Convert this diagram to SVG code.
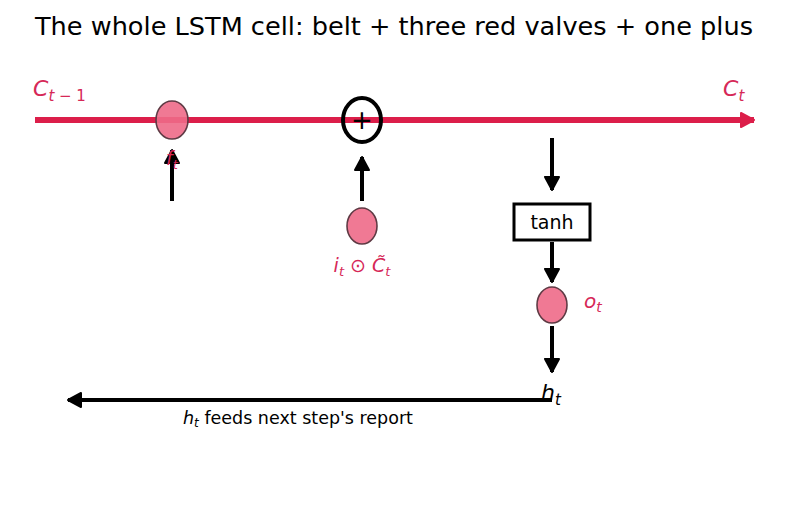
<svg xmlns="http://www.w3.org/2000/svg" width="787" height="512" viewBox="0 0 787 512">
<style>
text{font-family:"DejaVu Sans","Liberation Sans",sans-serif}
.red{fill:#d62857}
.it{font-style:italic}
.valve{fill:#ee6a88;fill-opacity:0.9;stroke:#5e3a44;stroke-width:1.6}
.arr{stroke:#000;stroke-width:4;fill:none}
</style>
<defs>
<marker id="ah" markerUnits="userSpaceOnUse" markerWidth="24" markerHeight="24" refX="14" refY="8" orient="auto">
<path d="M1,1 L14,8 L1,15 Z" fill="#000" stroke="#000" stroke-width="2" stroke-linejoin="round"/>
</marker>
<marker id="ahr" markerUnits="userSpaceOnUse" markerWidth="24" markerHeight="24" refX="14" refY="8" orient="auto">
<path d="M1,1 L14,8 L1,15 Z" fill="#dc1e4a" stroke="#dc1e4a" stroke-width="2" stroke-linejoin="round"/>
</marker>
</defs>
<text x="394" y="35" font-size="25.6" text-anchor="middle">The whole LSTM cell: belt + three red valves + one plus</text>

<g id="belt">
<line x1="35" y1="120" x2="754" y2="120" stroke="#dc1e4a" stroke-width="6" marker-end="url(#ahr)"/>
<text x="33" y="96" font-size="22" class="red"><tspan class="it">C</tspan><tspan font-size="15" dy="5"><tspan class="it">t</tspan> − 1</tspan></text>
<text x="723" y="96" font-size="22" class="red"><tspan class="it">C</tspan><tspan font-size="15" dy="5" class="it">t</tspan></text>
</g>

<g id="connectors">
<line class="arr" x1="172" y1="201" x2="172" y2="150" marker-end="url(#ah)"/>
<line class="arr" x1="362" y1="201" x2="362" y2="157" marker-end="url(#ah)"/>
<line class="arr" x1="552" y1="138" x2="552" y2="190" marker-end="url(#ah)"/>
<line class="arr" x1="552" y1="242" x2="552" y2="282" marker-end="url(#ah)"/>
<line class="arr" x1="552" y1="326" x2="552" y2="372" marker-end="url(#ah)"/>
<line class="arr" x1="552" y1="400" x2="68" y2="400" marker-end="url(#ah)"/>
</g>

<g id="forget">
<ellipse class="valve" cx="172" cy="120" rx="16" ry="19"/>
<text x="172" y="165" font-size="19" text-anchor="middle" class="red"><tspan class="it">f</tspan><tspan font-size="13" dy="4" class="it">t</tspan></text>
</g>

<g id="plus">
<ellipse cx="362" cy="120" rx="19" ry="22" fill="none" stroke="#000" stroke-width="4"/>
<text x="362" y="129" font-size="26" text-anchor="middle">+</text>
</g>

<g id="input">
<ellipse class="valve" cx="362" cy="226" rx="15" ry="18"/>
<text x="362" y="272" font-size="19" text-anchor="middle" class="red"><tspan class="it">i</tspan><tspan font-size="13" dy="4" class="it">t</tspan><tspan dy="-4"> ⊙ </tspan><tspan class="it">C̃</tspan><tspan font-size="13" dy="4" class="it">t</tspan></text>
</g>

<g id="tanh">
<rect x="514" y="204" width="76" height="36" fill="#fff" stroke="#000" stroke-width="3"/>
<text x="552" y="229" font-size="19" text-anchor="middle">tanh</text>
</g>

<g id="output">
<ellipse class="valve" cx="552" cy="305" rx="15" ry="18"/>
<text x="584" y="308" font-size="20" class="red"><tspan class="it">o</tspan><tspan font-size="14" dy="4" class="it">t</tspan></text>
</g>

<g id="hidden">
<text x="541" y="400" font-size="22"><tspan class="it">h</tspan><tspan font-size="15" dy="5" class="it">t</tspan></text>
<text x="298" y="424" font-size="17.5" text-anchor="middle"><tspan class="it">h</tspan><tspan font-size="12" dy="3" class="it">t</tspan><tspan dy="-3"> feeds next step's report</tspan></text>
</g>
</svg>
